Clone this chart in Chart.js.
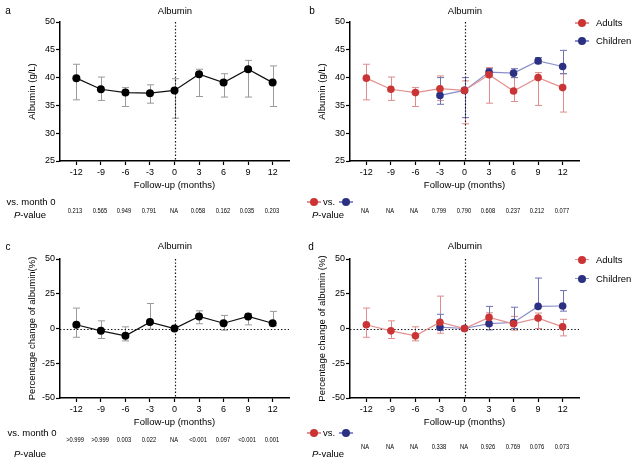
<!DOCTYPE html>
<html>
<head>
<meta charset="utf-8">
<script src="https://cdn.jsdelivr.net/npm/chart.js@4.4.1/dist/chart.umd.min.js"></script>
<style>
body { margin: 0; background: #fff; font-family: 'Liberation Sans', Arial, sans-serif; color: #000; }
#wrap { position: relative; width: 640px; height: 464px; overflow: hidden; }
canvas { position: absolute; }
.t { position: absolute; white-space: nowrap; transform: translate(-50%, -50%); line-height: 1; font-size: 9.5px; }
.lbl { position: absolute; font-size: 10px; transform: translate(-50%, -50%); line-height: 1; }
.ttl { position: absolute; font-size: 9.5px; transform: translate(-50%, -50%); line-height: 1; }
.pv { position: absolute; white-space: nowrap; font-size: 7px; line-height: 1; transform: translate(-50%, -50%) scaleX(0.82); }
.leg { position: absolute; font-size: 9.5px; line-height: 1; transform: translateY(-50%); white-space: nowrap; }
.ln { position: absolute; height: 1.3px; }
.dot { position: absolute; width: 8px; height: 8px; border-radius: 50%; }
</style>
</head>
<body>
<div id="wrap">
  <canvas id="cA" width="320" height="200" style="left:0;top:0"></canvas>
  <canvas id="cB" width="320" height="200" style="left:290px;top:0"></canvas>
  <canvas id="cC" width="320" height="200" style="left:0;top:237px"></canvas>
  <canvas id="cD" width="320" height="200" style="left:290px;top:237px"></canvas>

  <div class="lbl" style="left:8px;top:11px">a</div>
  <div class="lbl" style="left:312px;top:11px">b</div>
  <div class="lbl" style="left:8px;top:247px">c</div>
  <div class="lbl" style="left:311px;top:247px">d</div>

  <div class="ttl" style="left:175px;top:11px">Albumin</div>
  <div class="ttl" style="left:465px;top:11px">Albumin</div>
  <div class="ttl" style="left:175px;top:246px">Albumin</div>
  <div class="ttl" style="left:465px;top:246px">Albumin</div>

  <div class="t" style="left:31px;top:202px">vs. month 0</div>
  <div class="t" style="left:30px;top:215px"><i>P</i>-value</div>
  <div class="t" style="left:328px;top:215px"><i>P</i>-value</div>
  <div class="t" style="left:32px;top:433px">vs. month 0</div>
  <div class="t" style="left:30px;top:454px"><i>P</i>-value</div>
  <div class="t" style="left:328px;top:454px"><i>P</i>-value</div>
</div>

<script>
var months = [-12, -9, -6, -3, 0, 3, 6, 9, 12];

// panel a: all patients, albumin (g/L)
var allAlb   = [39.9, 37.9, 37.3, 37.2, 37.7, 40.6, 39.1, 41.5, 39.1];
var allAlbLo = [36.0, 35.9, 34.8, 35.4, 32.7, 36.6, 36.5, 36.5, 34.8];
var allAlbHi = [42.4, 40.1, 38.2, 38.7, 39.8, 41.5, 40.7, 43.1, 42.1];

// panel b: adults vs children, albumin (g/L)
var adultAlb   = [39.9, 37.9, 37.3, 38.0, 37.7, 40.5, 37.6, 40.0, 38.2];
var adultAlbLo = [36.0, 35.9, 34.8, 35.9, 31.7, 35.4, 35.7, 35.0, 33.8];
var adultAlbHi = [42.4, 40.1, 38.2, 40.3, 39.4, 41.8, 40.0, 40.9, 40.7];
var childAlb   = [null, null, null, 36.8, 37.7, 41.0, 40.8, 43.0, 42.0];
var childAlbLo = [null, null, null, 35.2, 32.8, 40.3, 40.0, 42.5, 40.7];
var childAlbHi = [null, null, null, 40.0, 40.0, 41.6, 41.6, 43.6, 44.9];

// panel c: all patients, % change
var allPct   = [2.7, -1.7, -5.3, 4.6, 0, 8.7, 3.8, 8.7, 3.8];
var allPctLo = [-6.3, -7.2, -8.9, -0.5, null, 3.4, -1.2, 2.6, 1.9];
var allPctHi = [14.7, 5.5, 1.2, 18.0, null, 12.7, 9.4, 10.8, 12.3];

// panel d: adults vs children, % change
var adultPct   = [2.7, -1.7, -5.3, 4.5, 0, 8.0, 3.4, 7.5, 1.2];
var adultPctLo = [-6.3, -7.2, -8.9, -3.4, null, 2.0, -1.2, 0.0, -5.3];
var adultPctHi = [14.7, 5.5, 1.2, 23.3, null, 11.3, 8.7, 11.1, 6.6];
var childPct   = [null, null, null, 1.0, 0, 3.5, 4.3, 15.9, 16.2];
var childPctLo = [null, null, null, -1.5, null, -1.0, 0.0, 15.9, 12.5];
var childPctHi = [null, null, null, 10.2, null, 15.9, 15.3, 36.3, 27.3];

// p-values under each panel
var pA = ['0.213', '0.565', '0.949', '0.791', 'NA', '0.058', '0.162', '0.035', '0.203'];
var pB = ['NA', 'NA', 'NA', '0.799', '0.790', '0.608', '0.237', '0.212', '0.077'];
var pC = ['>0.999', '>0.999', '0.003', '0.022', 'NA', '<0.001', '0.097', '<0.001', '0.001'];
var pD = ['NA', 'NA', 'NA', '0.338', 'NA', '0.926', '0.769', '0.076', '0.073'];

var RED = 'rgb(203,52,52)', RED_LN = 'rgb(226,145,145)', RED_ERR = 'rgb(222,140,140)';
var BLUE = 'rgb(44,48,130)', BLUE_LN = 'rgb(138,142,200)', BLUE_ERR = 'rgb(110,114,180)';

Chart.defaults.font.family = "'Liberation Sans', Arial, sans-serif";
Chart.defaults.font.size = 9;
Chart.defaults.color = '#000';

function pts(ys) {
    return months.map(function (m, i) { return {x: m, y: ys[i]}; })
                 .filter(function (p) { return p.y !== null; });
}

var errorBars = {
    id: 'errorBars',
    beforeDatasetsDraw: function (chart) {
        var ctx = chart.ctx, xs = chart.scales.x, ys = chart.scales.y;
        chart.data.datasets.forEach(function (ds) {
            if (!ds.lo) return;
            ctx.save();
            ctx.strokeStyle = ds.errColor;
            ctx.lineWidth = 1;
            for (var i = 0; i < months.length; i++) {
                if (ds.lo[i] == null) continue;
                var x = Math.round(xs.getPixelForValue(months[i])) + 0.5;
                var y1 = ys.getPixelForValue(ds.lo[i]), y2 = ys.getPixelForValue(ds.hi[i]);
                ctx.beginPath();
                ctx.moveTo(x, y1); ctx.lineTo(x, y2);
                ctx.moveTo(x - 3.5, y1); ctx.lineTo(x + 3.5, y1);
                ctx.moveTo(x - 3.5, y2); ctx.lineTo(x + 3.5, y2);
                ctx.stroke();
            }
            ctx.restore();
        });
    }
};

var refLines = {
    id: 'refLines',
    beforeDatasetsDraw: function (chart, args, opts) {
        var ctx = chart.ctx, xs = chart.scales.x, ys = chart.scales.y, a = chart.chartArea;
        ctx.save();
        ctx.strokeStyle = '#111';
        ctx.lineWidth = 1.2;
        ctx.setLineDash([1.4, 2]);
        var x0 = Math.round(xs.getPixelForValue(0)) + 0.5;
        ctx.beginPath(); ctx.moveTo(x0, a.top); ctx.lineTo(x0, a.bottom); ctx.stroke();
        if (opts.horizontal) {
            var y0 = Math.round(ys.getPixelForValue(0)) + 0.5;
            ctx.beginPath(); ctx.moveTo(a.left, y0); ctx.lineTo(a.right, y0); ctx.stroke();
        }
        ctx.restore();
    }
};

function series(ys, lo, hi, dot, line, err, r) {
    return {
        data: pts(ys), lo: lo, hi: hi, errColor: err,
        borderColor: line, borderWidth: 1.2, tension: 0,
        pointRadius: r, pointBackgroundColor: dot, pointBorderColor: dot, pointBorderWidth: 0
    };
}

function makeChart(id, datasets, yMin, yMax, yStep, yTitle, zeroH) {
    var axisGrid = {display: true, drawOnChartArea: false, drawTicks: true, tickLength: 4, tickWidth: 1.2, color: '#000'};
    var axisBorder = {display: true, color: '#000', width: 1.5};
    return new Chart(document.getElementById(id).getContext('2d'), {
        type: 'line',
        data: {datasets: datasets},
        options: {
            responsive: false,
            animation: false,
            events: [],
            layout: {padding: {left: 23, top: 22, right: 31, bottom: 5}},
            plugins: {legend: {display: false}, tooltip: {enabled: false}, refLines: {horizontal: zeroH}},
            scales: {
                x: {
                    type: 'linear', min: -14, max: 14,
                    grid: axisGrid, border: axisBorder,
                    ticks: {padding: 2, maxRotation: 0, font: {size: 9}},
                    afterBuildTicks: function (s) { s.ticks = months.map(function (v) { return {value: v}; }); },
                    afterFit: function (s) { s.height = 34; },
                    title: {display: true, text: 'Follow-up (months)', font: {size: 9.5}, padding: {top: 4, bottom: 4}}
                },
                y: {
                    min: yMin, max: yMax,
                    grid: axisGrid, border: axisBorder,
                    ticks: {stepSize: yStep, padding: 1, font: {size: 9}},
                    afterFit: function (s) { s.width = 37; },
                    title: {display: true, text: yTitle, font: {size: 9.5}, padding: {top: 4, bottom: 4}}
                }
            }
        },
        plugins: [errorBars, refLines]
    });
}

var chA = makeChart('cA', [series(allAlb, allAlbLo, allAlbHi, '#000', '#111', '#9a9a9a', 4)],
    25, 50, 5, 'Albumin (g/L)', false);
var chB = makeChart('cB', [
    series(adultAlb, adultAlbLo, adultAlbHi, RED, RED_LN, RED_ERR, 3.8),
    series(childAlb, childAlbLo, childAlbHi, BLUE, BLUE_LN, BLUE_ERR, 3.8)
], 25, 50, 5, 'Albumin (g/L)', false);
var chC = makeChart('cC', [series(allPct, allPctLo, allPctHi, '#000', '#111', '#9a9a9a', 4)],
    -50, 50, 25, 'Percentage change of albumin(%)', true);
var chD = makeChart('cD', [
    series(adultPct, adultPctLo, adultPctHi, RED, RED_LN, RED_ERR, 3.8),
    series(childPct, childPctLo, childPctHi, BLUE, BLUE_LN, BLUE_ERR, 3.8)
], -50, 50, 25, 'Percentage change of albumin (%)', true);

var wrap = document.getElementById('wrap');

function addPvals(chart, leftOff, top, vals) {
    var xs = chart.scales.x;
    vals.forEach(function (v, i) {
        var d = document.createElement('div');
        d.className = 'pv';
        d.textContent = v;
        d.style.left = (leftOff + xs.getPixelForValue(months[i]) - 1) + 'px';
        d.style.top = top + 'px';
        wrap.appendChild(d);
    });
}
addPvals(chA, 0, 209.5, pA);
addPvals(chB, 290, 209.5, pB);
addPvals(chC, 0, 438.5, pC);
addPvals(chD, 290, 446, pD);

function marker(cx, cy, dot, line) {
    var l = document.createElement('div');
    l.className = 'ln';
    l.style.cssText = 'left:' + (cx - 7) + 'px;top:' + (cy - 0.6) + 'px;width:14px;background:' + line;
    var d = document.createElement('div');
    d.className = 'dot';
    d.style.cssText = 'left:' + (cx - 4) + 'px;top:' + (cy - 4) + 'px;background:' + dot;
    wrap.appendChild(l);
    wrap.appendChild(d);
}
function text(cls, x, y, s) {
    var d = document.createElement('div');
    d.className = cls;
    d.style.left = x + 'px';
    d.style.top = y + 'px';
    d.textContent = s;
    wrap.appendChild(d);
}

// legends for b and d
[[23, 41], [259.5, 278.5]].forEach(function (ys) {
    marker(582, ys[0], RED, RED_LN);
    text('leg', 596, ys[0], 'Adults');
    marker(582, ys[1], BLUE, BLUE_LN);
    text('leg', 596, ys[1], 'Children');
});

// "adults vs. children" keys above the p-value rows
[202, 433].forEach(function (y) {
    marker(314, y, RED, RED_LN);
    text('leg', 323, y, 'vs.');
    marker(346, y, BLUE, BLUE_LN);
});
</script>
</body>
</html>
